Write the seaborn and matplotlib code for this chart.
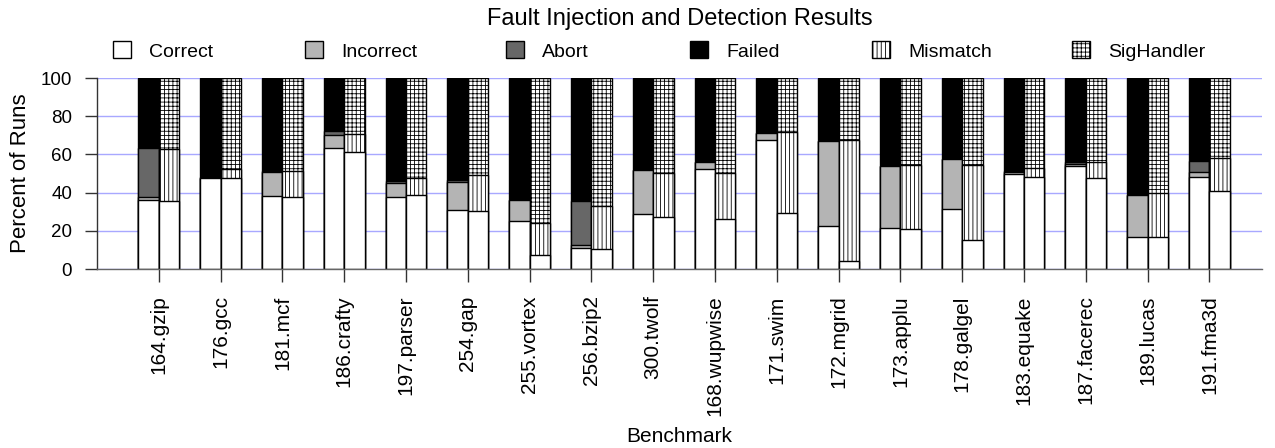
import numpy as np
import pandas as pd
import matplotlib
matplotlib.use("Agg")
import matplotlib.pyplot as plt
import seaborn as sns
from matplotlib.patches import Patch

# ---------------- data (percent of runs) ----------------
benchmarks = ["164.gzip", "176.gcc", "181.mcf", "186.crafty", "197.parser", "254.gap",
              "255.vortex", "256.bzip2", "300.twolf", "168.wupwise", "171.swim", "172.mgrid",
              "173.applu", "178.galgel", "183.equake", "187.facerec", "189.lucas", "191.fma3d"]

# left bar of each pair: Correct / Incorrect / Abort / Failed (remainder)
correct_l   = [36.2, 47.6, 38.3, 63.3, 37.6, 30.9, 25.2, 11.2, 28.8, 52.3, 67.3, 22.7, 21.7, 31.5, 49.7, 54.0, 17.0, 48.1]
incorrect_l = [1.7, 0.2, 12.7, 7.0, 7.3, 14.9, 11.0, 1.4, 22.8, 3.6, 3.9, 44.4, 32.0, 26.0, 1.0, 0.9, 21.8, 2.9]
abort_l     = [25.4, 0.6, 0.3, 1.7, 1.3, 0.9, 0.0, 23.2, 0.0, 0.3, 0.0, 0.0, 0.0, 0.0, 0.7, 1.0, 0.0, 5.3]

# right bar of each pair: Correct / Mismatch / SigHandler (remainder)
correct_r  = [35.8, 47.6, 37.8, 61.2, 38.6, 30.6, 7.3, 10.3, 27.4, 26.0, 29.5, 4.2, 20.8, 15.2, 48.1, 47.6, 17.0, 40.6]
mismatch_r = [27.0, 4.8, 13.6, 9.4, 9.0, 18.5, 16.7, 22.7, 23.1, 24.2, 42.2, 63.1, 33.4, 39.3, 4.7, 8.3, 23.0, 17.4]

categories = ["Correct", "Incorrect", "Abort", "Failed", "Mismatch", "SigHandler"]
face = {"Correct": "white", "Incorrect": "#b4b4b4", "Abort": "#676767",
        "Failed": "black", "Mismatch": "white", "SigHandler": "white"}
hatch = {"Correct": "", "Incorrect": "", "Abort": "", "Failed": "",
         "Mismatch": "||||", "SigHandler": "++++"}

# ---------------- style ----------------
sns.set_theme(style="white")
plt.rcParams["font.family"] = ["Liberation Sans", "DejaVu Sans"]
plt.rcParams["hatch.linewidth"] = 0.6
plt.rcParams["hatch.color"] = "black"
plt.rcParams["text.color"] = "black"
plt.rcParams["axes.labelcolor"] = "black"

fig = plt.figure(figsize=(12.75, 4.48), dpi=100)
W, H = 1275, 448
ax = fig.add_axes([97 / W, 1 - 269 / H, (1262 - 97) / W, (269 - 78) / H])

cl = np.array(correct_l); il = np.array(incorrect_l); al = np.array(abort_l)
cr = np.array(correct_r); mr = np.array(mismatch_r)

# cumulative tops, drawn from the tallest layer down so each covers the next
layers = [
    ("L", "Failed", np.full(len(benchmarks), 100.0)),
    ("L", "Abort", cl + il + al),
    ("L", "Incorrect", cl + il),
    ("L", "Correct", cl),
    ("R", "SigHandler", np.full(len(benchmarks), 100.0)),
    ("R", "Mismatch", cr + mr),
    ("R", "Correct", cr),
]

for side, cat, top in layers:
    df = pd.DataFrame({"bench": benchmarks, "side": side, "top": top})
    sns.barplot(data=df, x="bench", y="top", hue="side", hue_order=["L", "R"],
                order=benchmarks, palette={"L": face[cat], "R": face[cat]},
                saturation=1, width=0.66, gap=0, dodge=True, errorbar=None,
                edgecolor="black", linewidth=1.0, hatch=hatch[cat] or None,
                legend=False, ax=ax)

# ---------------- axes ----------------
ax.set_xlim(-1.0, 17.85)
ax.set_ylim(0, 100)
ax.set_yticks([0, 20, 40, 60, 80, 100])
ax.set_axisbelow(True)
ax.yaxis.grid(True, color="#a8a8ff", linewidth=1.0)
ax.xaxis.grid(False)
for s in ["top", "right"]:
    ax.spines[s].set_visible(False)
ax.spines["left"].set_color("#333333")
ax.spines["bottom"].set_color("#666666")
ax.spines["left"].set_linewidth(1.0)
ax.spines["bottom"].set_linewidth(1.0)

ax.tick_params(axis="both", which="major", bottom=True, left=True, direction="out",
               length=9, width=1, color="#333333", labelcolor="black")
ax.tick_params(axis="y", labelsize=13.5, pad=9)
ax.tick_params(axis="x", labelrotation=90, labelsize=15, pad=10)

ax.set_xlabel("Benchmark", fontsize=15, labelpad=8)
ax.set_ylabel("Percent of Runs", fontsize=16, labelpad=7)

fig.text((97 + 1262) / 2 / W, 1 - 25 / H, "Fault Injection and Detection Results",
         ha="center", va="baseline", fontsize=17)

# legend, one entry per slot along the top
slot_x = [113, 305, 506, 690, 872, 1072]
for cat, x in zip(categories, slot_x):
    h = Patch(facecolor=face[cat], edgecolor="black", hatch=hatch[cat] or None, linewidth=1.0)
    fig.legend(handles=[h], labels=[cat], loc="center left",
               bbox_to_anchor=(x / W, 1 - 51 / H), frameon=False, fontsize=14,
               handlelength=0.95, handleheight=0.95, handletextpad=0.9,
               borderpad=0, borderaxespad=0)

fig.savefig("out.png", dpi=100)
